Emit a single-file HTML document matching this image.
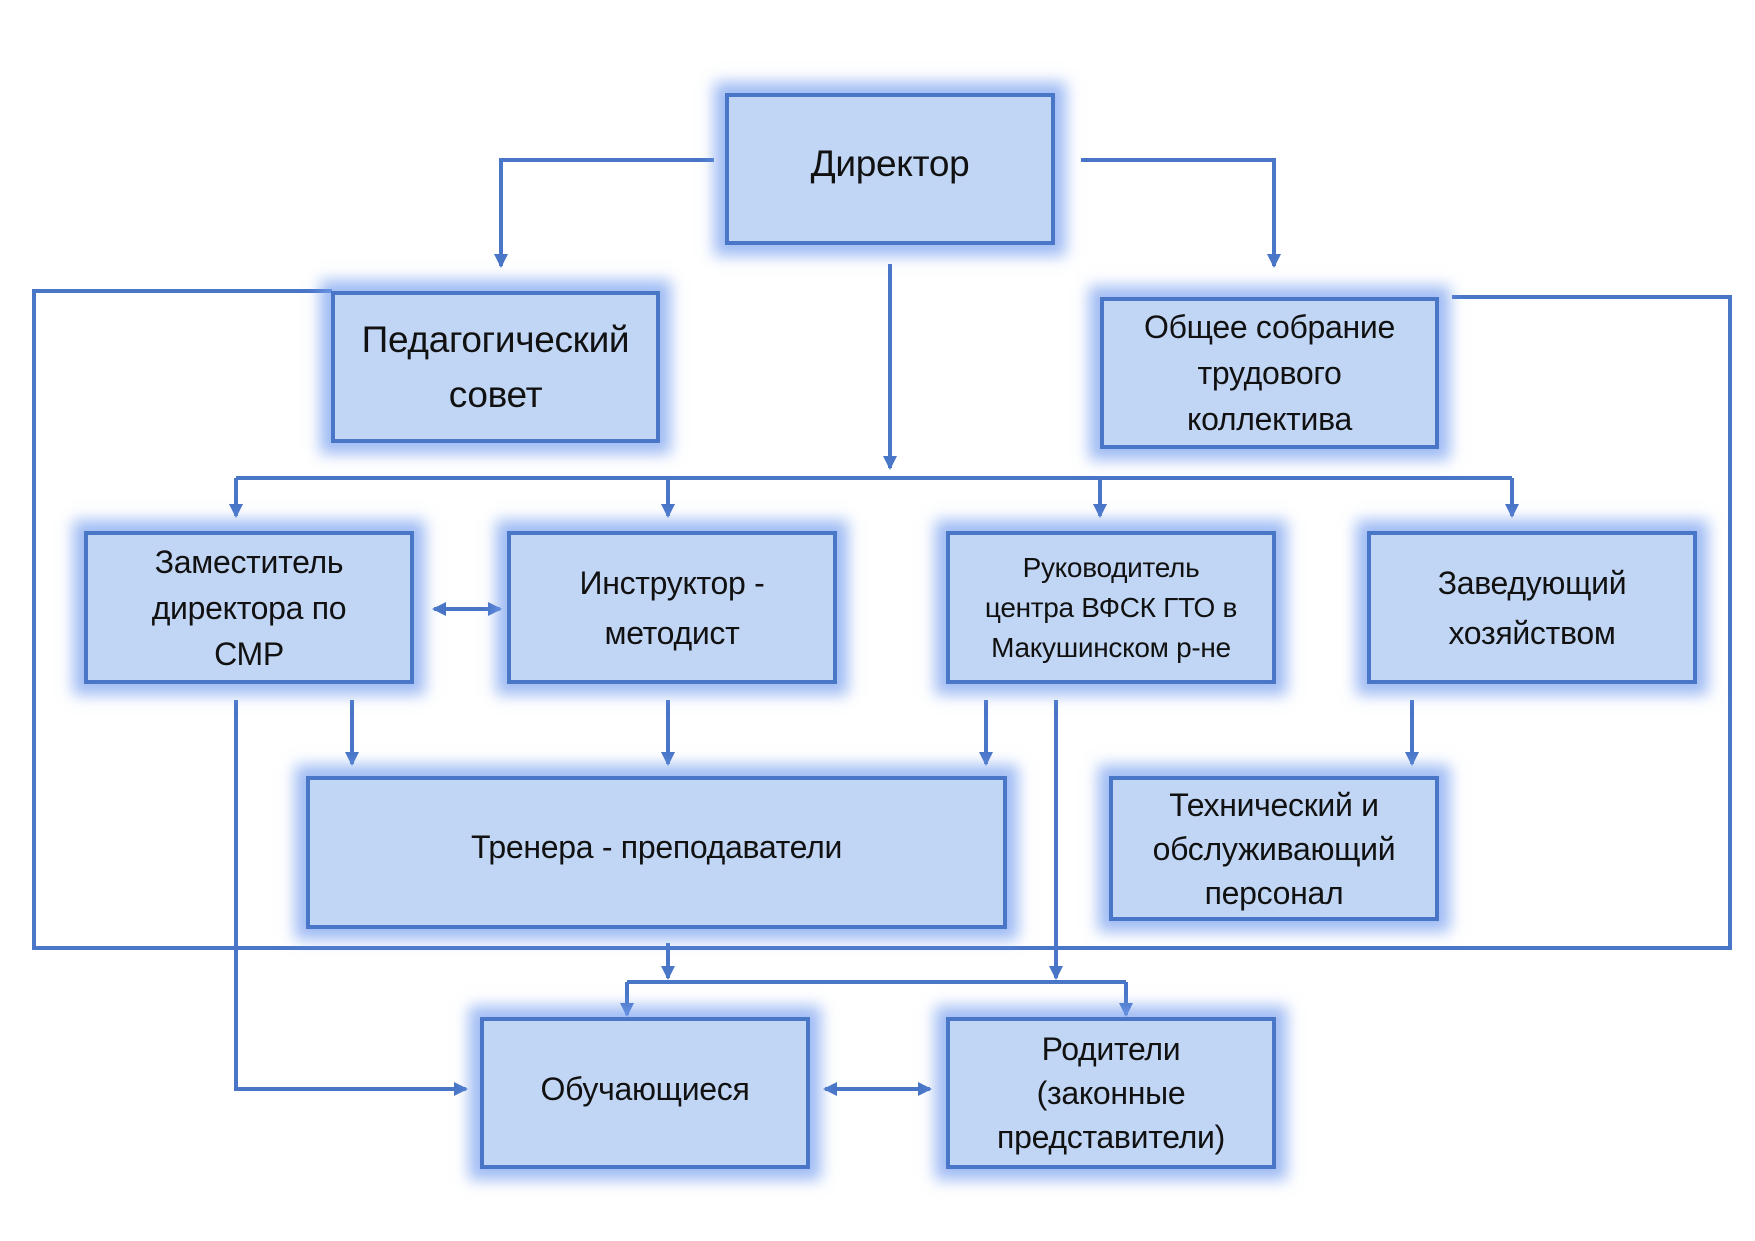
<!DOCTYPE html>
<html><head><meta charset="utf-8"><style>
body{margin:0;width:1755px;height:1241px;background:#fff;position:relative;overflow:hidden;font-family:"Liberation Sans","DejaVu Sans",sans-serif;}
.b{position:absolute;box-sizing:border-box;background:#c1d5f4;border:4px solid #4a76c8;box-shadow:0 0 14px 11px rgba(120,160,240,0.7);display:flex;align-items:center;justify-content:center;text-align:center;color:#111;font-size:32px;line-height:46px;letter-spacing:-0.3px}
svg{position:absolute;left:0;top:0}
</style></head><body>
<svg width="1755" height="1241" viewBox="0 0 1755 1241">
<defs>
<marker id="m" markerWidth="14" markerHeight="14" refX="12" refY="7" orient="auto-start-reverse" markerUnits="userSpaceOnUse"><path d="M0,0 L14,7 L0,14 z" fill="#4a76c8"/></marker></defs>
<g stroke="#4a76c8" stroke-width="4" fill="none">
<polyline points="714,160 501,160 501,266" marker-end="url(#m)"/>
<polyline points="1081,160 1274,160 1274,266" marker-end="url(#m)"/>
<line x1="890" y1="264" x2="890" y2="468" marker-end="url(#m)"/>
<line x1="236" y1="478" x2="1512" y2="478"/>
<line x1="236" y1="478" x2="236" y2="516" marker-end="url(#m)"/>
<line x1="668" y1="478" x2="668" y2="516" marker-end="url(#m)"/>
<line x1="1100" y1="478" x2="1100" y2="516" marker-end="url(#m)"/>
<line x1="1512" y1="478" x2="1512" y2="516" marker-end="url(#m)"/>
<polyline points="332,291 34,291 34,948 1730,948 1730,297 1452,297"/>
<line x1="434" y1="609" x2="500" y2="609" marker-start="url(#m)" marker-end="url(#m)"/>
<line x1="352" y1="700" x2="352" y2="764" marker-end="url(#m)"/>
<line x1="668" y1="700" x2="668" y2="764" marker-end="url(#m)"/>
<line x1="986" y1="700" x2="986" y2="764" marker-end="url(#m)"/>
<line x1="1412" y1="700" x2="1412" y2="764" marker-end="url(#m)"/>
<polyline points="236,700 236,1089 466,1089" marker-end="url(#m)"/>
<line x1="1056" y1="700" x2="1056" y2="978" marker-end="url(#m)"/>
<line x1="668" y1="943" x2="668" y2="978" marker-end="url(#m)"/>
<line x1="627" y1="982" x2="1126" y2="982"/>
<line x1="627" y1="982" x2="627" y2="1015" marker-end="url(#m)"/>
<line x1="1126" y1="982" x2="1126" y2="1015" marker-end="url(#m)"/>
<line x1="825" y1="1089" x2="930" y2="1089" marker-start="url(#m)" marker-end="url(#m)"/>
</g></svg>
<div class="b" style="left:725px;top:93px;width:330px;height:152px;font-size:37px;align-items:flex-start;padding-top:44px">Директор</div>
<div class="b" style="left:331px;top:291px;width:329px;height:152px;font-size:37px;line-height:55px">Педагогический<br>совет</div>
<div class="b" style="left:1100px;top:297px;width:339px;height:152px">Общее собрание<br>трудового<br>коллектива</div>
<div class="b" style="left:84px;top:531px;width:330px;height:153px">Заместитель<br>директора по<br>СМР</div>
<div class="b" style="left:507px;top:531px;width:330px;height:153px;line-height:50px">Инструктор -<br>методист</div>
<div class="b" style="left:946px;top:531px;width:330px;height:153px;font-size:28px;line-height:40px">Руководитель<br>центра ВФСК ГТО в<br>Макушинском р-не</div>
<div class="b" style="left:1367px;top:531px;width:330px;height:153px;line-height:50px">Заведующий<br>хозяйством</div>
<div class="b" style="left:306px;top:776px;width:701px;height:153px;align-items:flex-start;padding-top:44px">Тренера - преподаватели</div>
<div class="b" style="left:1109px;top:776px;width:330px;height:145px;line-height:44px">Технический и<br>обслуживающий<br>персонал</div>
<div class="b" style="left:480px;top:1017px;width:330px;height:152px;align-items:flex-start;padding-top:45px">Обучающиеся</div>
<div class="b" style="left:946px;top:1017px;width:330px;height:152px;line-height:44px">Родители<br>(законные<br>представители)</div>
</body></html>
